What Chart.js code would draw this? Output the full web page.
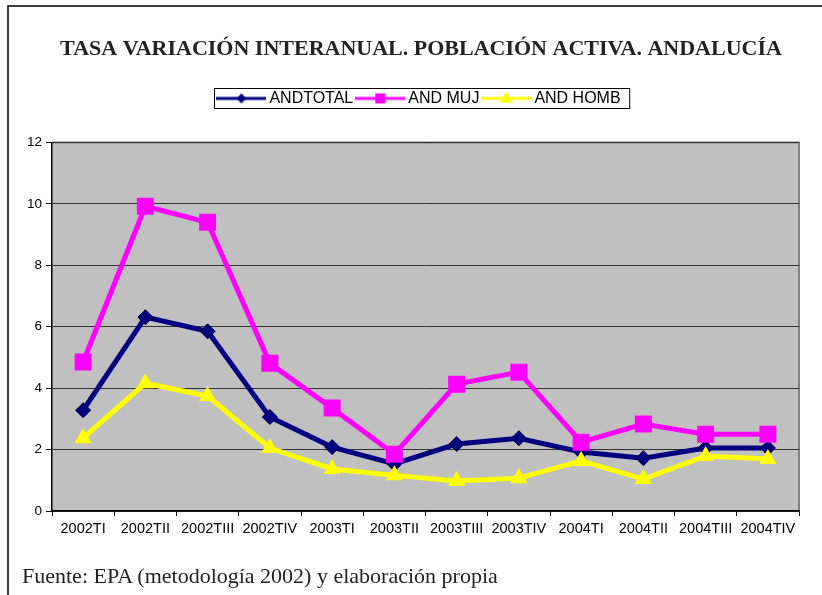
<!DOCTYPE html>
<html>
<head>
<meta charset="utf-8">
<script src="https://cdn.jsdelivr.net/npm/chart.js@4.4.1/dist/chart.umd.min.js"></script>
<style>
  body { margin: 0; background: #fff; }
  #wrap { position: relative; width: 822px; height: 595px; }
  #fuente {
    position: absolute; left: 22px; top: 563px;
    font-family: "Liberation Serif", "Times New Roman", serif;
    font-size: 22px; color: #222; white-space: nowrap;
  }
</style>
</head>
<body>
<div id="wrap">
  <canvas id="chart" width="822" height="595"></canvas>
  <div id="fuente">Fuente: EPA (metodología 2002) y elaboración propia</div>
</div>
<script>
// Data
const categories = ['2002TI', '2002TII', '2002TIII', '2002TIV', '2003TI', '2003TII',
  '2003TIII', '2003TIV', '2004TI', '2004TII', '2004TIII', '2004TIV'];
const andTotal = [3.28, 6.31, 5.85, 3.06, 2.08, 1.53, 2.18, 2.37, 1.92, 1.72, 2.05, 2.05];
const andMuj = [4.85, 9.92, 9.40, 4.81, 3.35, 1.85, 4.13, 4.52, 2.24, 2.83, 2.50, 2.50];
const andHomb = [2.37, 4.16, 3.74, 2.05, 1.37, 1.16, 0.98, 1.07, 1.63, 1.04, 1.79, 1.69];
const yTicks = [0, 2, 4, 6, 8, 10, 12];
const seriesNames = ['ANDTOTAL', 'AND MUJ', 'AND HOMB'];

const NAVY = '#000080';
const MAGENTA = '#ff00ff';
const YELLOW = '#ffff00';

// Small line + marker image for legend entries
const drawMarker = (g, style, x, y, r) => {
  g.beginPath();
  if (style === 'rectRot') {
    g.moveTo(x - r, y); g.lineTo(x, y - r); g.lineTo(x + r, y); g.lineTo(x, y + r);
  } else if (style === 'rect') {
    g.rect(x - r, y - r, 2 * r, 2 * r);
  } else {
    g.moveTo(x, y - r); g.lineTo(x + r * 0.9, y + r * 0.6); g.lineTo(x - r * 0.9, y + r * 0.6);
  }
  g.closePath();
  g.fill();
};

const makeSample = (color, style, r) => {
  const c = document.createElement('canvas');
  c.width = 50;
  c.height = 16;
  const g = c.getContext('2d');
  g.strokeStyle = color;
  g.fillStyle = color;
  g.lineWidth = 3;
  g.beginPath();
  g.moveTo(0, 8);
  g.lineTo(50, 8);
  g.stroke();
  drawMarker(g, style, 25, 8, r);
  return c;
};

const samples = [
  makeSample(NAVY, 'rectRot', 5),
  makeSample(MAGENTA, 'rect', 5),
  makeSample(YELLOW, 'triangle', 7),
];

// Grey plot area, outer frame and legend box
const decor = {
  id: 'decor',
  beforeDraw(chart) {
    const { ctx, chartArea: a } = chart;
    ctx.save();
    ctx.fillStyle = '#c0c0c0';
    ctx.fillRect(a.left, a.top, a.right - a.left, a.bottom - a.top);
    ctx.strokeStyle = '#808080';
    ctx.lineWidth = 2;
    ctx.beginPath();
    ctx.moveTo(a.left, a.top);
    ctx.lineTo(a.right, a.top);
    ctx.lineTo(a.right, a.bottom);
    ctx.stroke();
    ctx.strokeStyle = '#000';
    ctx.lineWidth = 1.5;
    ctx.beginPath();
    ctx.moveTo(8, 595);
    ctx.lineTo(8, 6);
    ctx.lineTo(822, 6);
    ctx.stroke();
    ctx.restore();
  },
  afterDraw(chart) {
    const boxes = chart.legend.legendHitBoxes;
    if (!boxes || !boxes.length) return;
    const left = Math.min(...boxes.map((b) => b.left)) - 7;
    const right = Math.max(...boxes.map((b) => b.left + b.width)) + 9;
    const top = Math.min(...boxes.map((b) => b.top)) - 2;
    const bottom = Math.max(...boxes.map((b) => b.top + b.height)) + 2;
    const ctx = chart.ctx;
    ctx.save();
    ctx.strokeStyle = '#000';
    ctx.lineWidth = 1;
    ctx.strokeRect(Math.round(left) + 0.5, Math.round(top) + 0.5, right - left, bottom - top);
    ctx.restore();
  },
};

const ctx = document.getElementById('chart').getContext('2d');

const myChart = new Chart(ctx, {
  type: 'line',
  data: {
    labels: categories,
    datasets: [
      {
        label: seriesNames[0],
        data: andTotal,
        xAxisID: 'x',
        yAxisID: 'y',
        borderColor: NAVY,
        backgroundColor: NAVY,
        borderWidth: 5,
        pointStyle: 'rectRot',
        pointRadius: 7.5,
        pointBorderColor: '#000040',
        pointBorderWidth: 1,
        order: 3,
      },
      {
        label: seriesNames[1],
        data: andMuj,
        xAxisID: 'x',
        yAxisID: 'y',
        borderColor: MAGENTA,
        backgroundColor: MAGENTA,
        borderWidth: 5,
        pointStyle: 'rect',
        pointRadius: 12,
        pointBorderWidth: 0,
        order: 2,
      },
      {
        label: seriesNames[2],
        data: andHomb,
        xAxisID: 'x',
        yAxisID: 'y',
        borderColor: YELLOW,
        backgroundColor: YELLOW,
        borderWidth: 5,
        pointStyle: 'triangle',
        pointRadius: 10,
        pointBorderWidth: 0,
        order: 1,
      },
    ],
  },
  options: {
    responsive: false,
    animation: false,
    layout: {
      padding: { top: 0, left: 23, right: 3, bottom: 56 },
    },
    plugins: {
      title: {
        display: true,
        text: 'TASA VARIACIÓN INTERANUAL. POBLACIÓN ACTIVA. ANDALUCÍA',
        color: '#222',
        font: { family: '"Liberation Serif", "Times New Roman", serif', size: 22, weight: 'bold' },
        padding: { top: 36, bottom: 21 },
      },
      legend: {
        display: true,
        position: 'top',
        labels: {
          usePointStyle: true,
          pointStyleWidth: 40,
          padding: 7,
          color: '#000',
          font: { family: '"Liberation Sans", Arial, sans-serif', size: 16 },
          generateLabels: () => seriesNames.map((name, i) => ({
            text: name,
            pointStyle: samples[i],
            fillStyle: 'transparent',
            strokeStyle: 'transparent',
            lineWidth: 0,
            hidden: false,
            datasetIndex: i,
          })),
        },
      },
      tooltip: { enabled: false },
    },
    scales: {
      x: {
        type: 'category',
        offset: true,
        grid: {
          offset: true,
          drawOnChartArea: false,
          tickLength: 5,
          color: '#000',
        },
        border: { color: '#000', width: 1.5 },
        ticks: {
          color: '#000',
          autoSkip: false,
          maxRotation: 0,
          padding: 4,
          font: { family: '"Liberation Sans", Arial, sans-serif', size: 14.5 },
        },
        afterFit: (scale) => { scale.height = 28; },
      },
      // empty boxes that only reserve space
      spacer: {
        type: 'category',
        axis: 'x',
        position: 'top',
        ticks: { display: false },
        grid: { display: false, drawTicks: false },
        border: { display: false },
        afterFit: (scale) => { scale.height = 26; },
      },
      spacerRight: {
        type: 'linear',
        axis: 'y',
        position: 'right',
        ticks: { display: false },
        grid: { display: false, drawTicks: false },
        border: { display: false },
        afterFit: (scale) => { scale.width = 20; },
      },
      y: {
        min: 0,
        max: 12,
        grid: {
          color: '#333',
          lineWidth: 1,
          tickLength: 6,
          tickColor: '#000',
        },
        border: { color: '#000', width: 1.5 },
        afterBuildTicks: (scale) => {
          scale.ticks = yTicks.map((v) => ({ value: v }));
        },
        ticks: {
          color: '#000',
          padding: 4,
          font: { family: '"Liberation Sans", Arial, sans-serif', size: 13.5 },
        },
        afterFit: (scale) => { scale.width = 29; },
      },
    },
  },
  plugins: [decor],
});
</script>
</body>
</html>
